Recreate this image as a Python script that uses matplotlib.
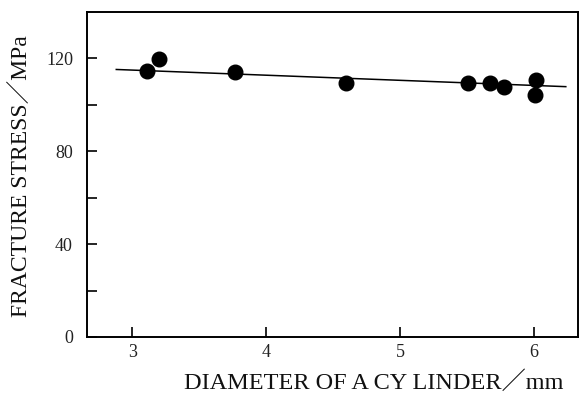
import matplotlib.pyplot as plt

# measured points: cylinder diameter (mm) vs fracture stress (MPa)
diameter = [3.11, 3.20, 3.77, 4.60, 5.51, 5.67, 5.78, 6.02, 6.01]
stress = [114.5, 119.7, 113.9, 109.2, 109.2, 109.2, 107.5, 110.5, 104.0]

# fitted straight line (end points)
fit_x = [2.88, 6.24]
fit_y = [115.2, 107.8]

x_ticks = [3, 4, 5, 6]
y_ticks = [0, 40, 80, 120]
y_minor = [20, 60, 100]

plt.rcParams['font.family'] = ['Liberation Serif', 'Noto Sans CJK JP']

fig = plt.figure(figsize=(5.79, 3.96), dpi=100)
ax = fig.add_axes([0.150, 0.149, 0.848, 0.821])

ax.plot(fit_x, fit_y, color='black', lw=1.1)
ax.plot(diameter, stress, 'o', color='black', ms=10.5)

ax.set_xlim(2.66, 6.33)
ax.set_ylim(0, 140)
ax.set_xticks(x_ticks)
ax.set_yticks(y_ticks)
ax.set_yticks(y_minor, minor=True)
ax.tick_params(axis='both', which='both', direction='in', color='black', width=1.2)
ax.tick_params(axis='both', which='major', length=7, labelsize=13, labelcolor='#222222')
ax.tick_params(axis='y', which='minor', length=7)
ax.tick_params(axis='y', pad=10)
ax.tick_params(axis='x', pad=5)
for s in ax.spines.values():
    s.set_linewidth(1.4)

fig.text(0.645, 0.033, "DIAMETER OF A CY LINDER／mm", fontsize=17.5, ha='center', va='center', color='#111111')
fig.text(0.038, 0.555, "FRACTURE STRESS／MPa", fontsize=17, ha='center', va='center', rotation=90, color='#111111')

plt.savefig('out.png', dpi=100)
